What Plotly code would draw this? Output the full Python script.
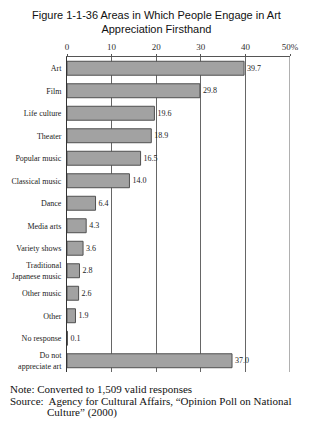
import plotly.graph_objects as go

categories = ["Art", "Film", "Life culture", "Theater", "Popular music", "Classical music",
              "Dance", "Media arts", "Variety shows", "Traditional<br>Japanese music",
              "Other music", "Other", "No response", "Do not<br>appreciate art"]
values = [39.7, 29.8, 19.6, 18.9, 16.5, 14.0, 6.4, 4.3, 3.6, 2.8, 2.6, 1.9, 0.1, 37.0]
tick_vals = [0, 10, 20, 30, 40, 50]
tick_text = ["0", "10", "20", "30", "40", "50%"]

serif = "Liberation Serif, Times New Roman, serif"
sans = "Liberation Sans, Arial, sans-serif"

L, R, T, B = 67, 22, 57, 53
W, H = 312, 425
PW, PH = W - L - R, H - T - B

def px_x(px):
    return (px - L) / PW

def px_y(py):
    return (H - B - py) / PH

fig = go.Figure(go.Bar(
    y=categories, x=values, orientation="h",
    marker=dict(color="#a2a2a2", line=dict(color="#505050", width=1)),
    width=0.62,
    text=[f"{v:.1f}" for v in values], textposition="outside",
    textfont=dict(family=serif, size=8, color="#222222"),
    cliponaxis=False,
))

fig.update_layout(
    width=W, height=H,
    margin=dict(l=L, r=R, t=T, b=B),
    plot_bgcolor="white", paper_bgcolor="white",
    showlegend=False,
)
fig.update_xaxes(
    side="top", range=[0, 50], tickvals=tick_vals, ticktext=tick_text,
    tickfont=dict(family=serif, size=9, color="#333333"),
    showgrid=True, gridcolor="#666666", gridwidth=1,
    showline=True, linecolor="#555555", linewidth=1,
    ticks="outside", ticklen=2, tickcolor="#555555",
    zeroline=False, fixedrange=True, automargin=False,
)
fig.update_yaxes(
    autorange="reversed", categoryorder="array", categoryarray=categories,
    tickfont=dict(family=serif, size=8, color="#222222"),
    showline=True, linecolor="#333333", linewidth=1, ticks="", ticklen=0,
    ticklabelstandoff=3,
    showgrid=False, fixedrange=True, automargin=False,
)
fig.add_shape(type="line", xref="x", yref="paper", x0=50, x1=50, y0=0, y1=1,
              line=dict(color="#b0b0b0", width=2))

fig.add_annotation(text="Figure 1-1-36 Areas in Which People Engage in Art<br>Appreciation Firsthand",
                   xref="paper", yref="paper", x=px_x(156), y=px_y(7),
                   xanchor="center", yanchor="top", showarrow=False, align="center",
                   font=dict(family=sans, size=11, color="#111111"))

note_font = dict(family=serif, size=11, color="#111111")
fig.add_annotation(text="Note: Converted to 1,509 valid responses", xref="paper", yref="paper",
                   x=px_x(8), y=px_y(389), xanchor="left", yanchor="middle", showarrow=False,
                   font=note_font)
fig.add_annotation(text="Source:  Agency for Cultural Affairs, \u201cOpinion Poll on National",
                   xref="paper", yref="paper",
                   x=px_x(8), y=px_y(401), xanchor="left", yanchor="middle", showarrow=False,
                   font=note_font)
fig.add_annotation(text="Culture\u201d (2000)", xref="paper", yref="paper",
                   x=px_x(45), y=px_y(412), xanchor="left", yanchor="middle", showarrow=False,
                   font=note_font)

fig.write_html("out.html")
